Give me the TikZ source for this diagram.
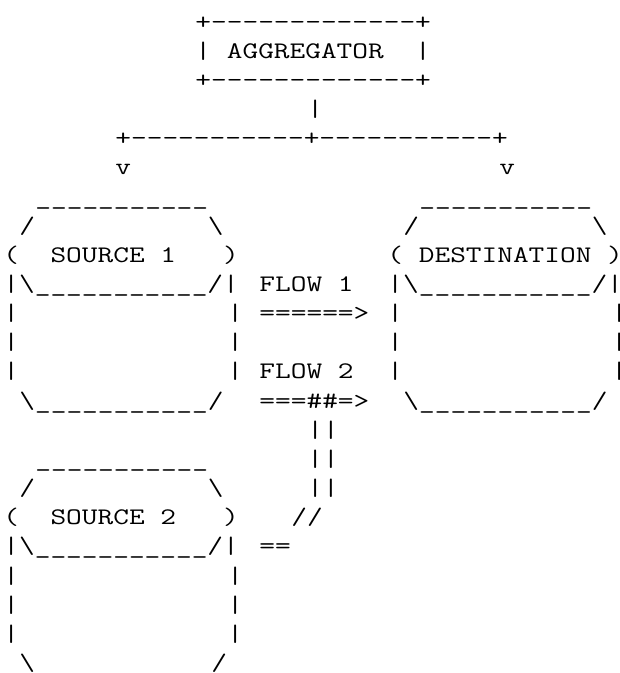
\documentclass[tikz,border=0pt]{standalone}
\usepackage{fontspec}
\setmonofont[FakeStretch=1.284]{Latin Modern Mono}
\usepackage{xcolor}
\usepackage{tikz}

\newcommand{\bsl}{\textbackslash}
\newcommand{\lid}{\_\_\_\_\_\_\_\_\_\_\_}
\frenchspacing

\tikzset{
  ascii/.style={anchor=base west, inner sep=0pt, outer sep=0pt, xshift=2.6pt,
    text=black, font=\ttfamily\fontsize{17.8}{20}\selectfont}
}

\begin{document}
\begin{tikzpicture}[x=12pt, y=-21.8625pt]
                \useasboundingbox (0,0) rectangle (38.6875,23.087);
                \clip (0,0) rectangle (38.6875,23.087);
                \node[ascii] (aggtop) at (12,1) {+-------------+};
                \node[ascii] (agg) at (12,2) {|~AGGREGATOR~~|};
                \node[ascii] (aggbot) at (12,3) {+-------------+};
                \node[ascii] (stem) at (19,4) {|};
                \node[ascii] (split) at (7,5) {+-----------+-----------+};
                \node[ascii] (tipl) at (7,6) {v};
                \node[ascii] (tipr) at (31,6) {v};
                \node[ascii] (srcAtop) at (2,7) {\lid};
                \node[ascii] (dsttop) at (26,7) {\lid};
                \node[ascii] (srcAcap) at (1,8) {/~~~~~~~~~~~\bsl};
                \node[ascii] (dstcap) at (25,8) {/~~~~~~~~~~~\bsl};
                \node[ascii] (srcA) at (0,9) {(~~SOURCE~1~~~)};
                \node[ascii] (dst) at (24,9) {(~DESTINATION~)};
                \node[ascii] (srcArim) at (0,10) {|\bsl\lid/|};
                \node[ascii] (flowA) at (16,10) {FLOW~1};
                \node[ascii] (dstrim) at (24,10) {|\bsl\lid/|};
                \foreach \r in {11,12,13} {
                  \node[ascii] (srcAl\r) at (0,\r) {|};
                  \node[ascii] (srcAr\r) at (14,\r) {|};
                  \node[ascii] (dstl\r) at (24,\r) {|};
                  \node[ascii] (dstr\r) at (38,\r) {|};
                }
                \node[ascii] (arrA) at (16,11) {======>};
                \node[ascii] (flowB) at (16,13) {FLOW~2};
                \node[ascii] (srcAbot) at (1,14) {\bsl\lid/};
                \node[ascii] (arrB) at (16,14) {===\#\#=>};
                \node[ascii] (dstbot) at (25,14) {\bsl\lid/};
                \foreach \r in {15,16,17} {
                  \node[ascii] (pipe\r) at (19,\r) {||};
                }
                \node[ascii] (srcBtop) at (2,16) {\lid};
                \node[ascii] (srcBcap) at (1,17) {/~~~~~~~~~~~\bsl};
                \node[ascii] (srcB) at (0,18) {(~~SOURCE~2~~~)};
                \node[ascii] (bend) at (18,18) {//};
                \node[ascii] (srcBrim) at (0,19) {|\bsl\lid/|};
                \node[ascii] (feed) at (16,19) {==};
                \foreach \r in {20,21,22} {
                  \node[ascii] (srcBl\r) at (0,\r) {|};
                  \node[ascii] (srcBr\r) at (14,\r) {|};
                }
                \node[ascii] (srcBbotl) at (1,23) {\bsl};
                \node[ascii] (srcBbotr) at (13,23) {/};
            \end{tikzpicture}
\end{document}
